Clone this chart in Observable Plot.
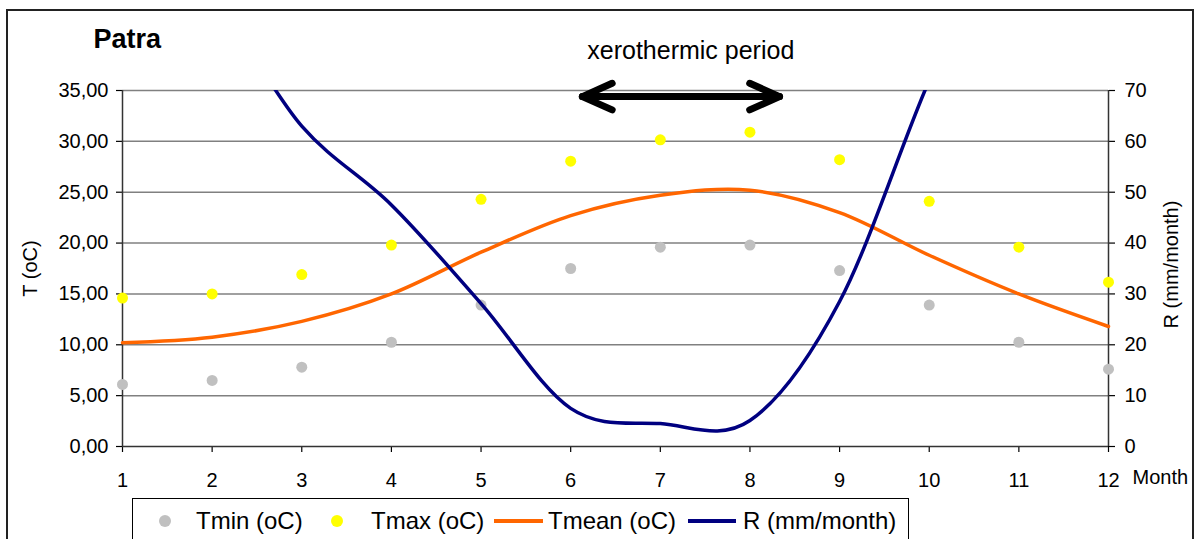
<!DOCTYPE html>
<html><head><meta charset="utf-8">
<script src="https://cdn.jsdelivr.net/npm/d3@7"></script>
<script src="https://cdn.jsdelivr.net/npm/@observablehq/plot@0.6"></script>
<style>
body{margin:0;background:#fff;font-family:"Liberation Sans",Arial,sans-serif;}
#wrap{position:relative;width:1195px;height:539px;overflow:hidden;background:#fff;}
#chart{position:absolute;left:0;top:0;}
#border{position:absolute;left:6px;top:9px;width:1184px;height:620px;border:2px solid #222;pointer-events:none;}
#legend{position:absolute;left:132px;top:498px;width:775px;height:70px;border:1px solid #000;background:#fff;font-size:24px;color:#000;}
#legend .item{position:absolute;top:22px;transform:translateY(-50%);white-space:nowrap;line-height:1;}
#legend .dot{position:absolute;top:22px;width:12px;height:12px;border-radius:50%;transform:translate(-50%,-50%);}
#legend .ln{position:absolute;top:22px;height:4px;transform:translateY(-50%);}
</style>
</head><body>
<div id="wrap"><div id="chart"></div><div id="legend"></div><div id="border"></div></div>
<script>
// ---- data ----
const months = [1, 2, 3, 4, 5, 6, 7, 8, 9, 10, 11, 12];
const tmin  = [6.1, 6.5, 7.8, 10.25, 13.9, 17.5, 19.6, 19.8, 17.3, 13.9, 10.25, 7.6];
const tmax  = [14.6, 15.0, 16.9, 19.8, 24.3, 28.05, 30.15, 30.9, 28.2, 24.1, 19.6, 16.15];
const tmean = [10.2, 10.75, 12.3, 15.0, 19.1, 22.7, 24.7, 25.2, 23.0, 18.8, 15.0, 11.8];
const rain  = [100, 88, 63, 47.5, 28.1, 7.5, 4.5, 5.1, 28.5, 72, 110, 130];
const tTicks = [0, 5, 10, 15, 20, 25, 30, 35];
const seriesNames  = ["Tmin (oC)", "Tmax (oC)", "Tmean (oC)", "R (mm/month)"];
const seriesColors = ["#c0c0c0", "#ffff00", "#ff6600", "#000080"];
const xeroPeriod = [{from: 6.13, to: 8.33, level: 34.4}];
const xeroLabel = ["xerothermic period"];
const xeroLabelMonth = 7.34;
const rPerT = 2; // right axis: 70 mm/month <-> 35 oC

const rows = months.map((m, i) => ({month: m, tmin: tmin[i], tmax: tmax[i], tmean: tmean[i], r: rain[i]}));
const fmt = d => d.toFixed(2).replace(".", ",");

const plot = Plot.plot({
  width: 1195, height: 498,
  marginLeft: 122, marginRight: 87, marginTop: 90, marginBottom: 52,
  x: {domain: [1, 12]},
  y: {domain: [0, 35]},
  style: {fontFamily: '"Liberation Sans", Arial, sans-serif', fontSize: "20px", background: "transparent", color: "#000", overflow: "visible"},
  marks: [
    Plot.ruleY(tTicks.filter(t => t > 0), {stroke: "#808080", strokeWidth: 1.5, strokeOpacity: 1}),
    Plot.axisY({ticks: tTicks, tickFormat: fmt, tickSize: 6, tickPadding: 8, label: null, strokeWidth: 1.2}),
    Plot.axisY({anchor: "right", ticks: tTicks, tickFormat: d => String(d * rPerT), tickSize: 6, tickPadding: 10, label: null, strokeWidth: 1.2}),
    Plot.axisX({ticks: months, tickSize: 6, tickPadding: 20, label: null, tickFormat: d => String(d), strokeWidth: 1.2}),
    Plot.ruleX([1, 12], {stroke: "#333", strokeWidth: 1.5}),
    Plot.ruleY([0], {stroke: "#333", strokeWidth: 1.5}),
    Plot.dot(rows, {x: "month", y: "tmin", r: 5.5, fill: seriesColors[0]}),
    Plot.dot(rows, {x: "month", y: "tmax", r: 5.5, fill: seriesColors[1]}),
    Plot.line(rows, {x: "month", y: "tmean", stroke: seriesColors[2], strokeWidth: 3.5, curve: "cardinal", tension: 0}),
    Plot.line(rows, {x: "month", y: d => d.r / rPerT, stroke: seriesColors[3], strokeWidth: 3.5, curve: "cardinal", tension: 0, clip: true}),
    Plot.arrow(xeroPeriod, {x1: "from", x2: "to", y1: "level", y2: "level", stroke: "#000", strokeWidth: 7, headLength: 7, headAngle: 48, strokeLinecap: "round", strokeLinejoin: "round"}),
    Plot.arrow(xeroPeriod, {x1: "to", x2: "from", y1: "level", y2: "level", stroke: "#000", strokeWidth: 7, headLength: 7, headAngle: 48, strokeLinecap: "round", strokeLinejoin: "round"}),
    Plot.text(xeroLabel, {x: () => xeroLabelMonth, y: () => 35, text: d => d, dy: -40, fontSize: 25}),
    Plot.text(["Patra"], {text: d => d, frameAnchor: "top-left", dx: -29, dy: -43, textAnchor: "start", lineAnchor: "bottom", fontSize: 27, fontWeight: "bold"}),
    Plot.text(["T (oC)"], {text: d => d, frameAnchor: "left", dx: -92, rotate: -90, textAnchor: "middle", fontSize: 20}),
    Plot.text(["R (mm/month)"], {text: d => d, frameAnchor: "right", dx: 63, dy: -4, rotate: -90, textAnchor: "middle", fontSize: 20}),
    Plot.text(["Month"], {text: d => d, frameAnchor: "bottom-right", dx: 24, dy: 37, textAnchor: "start", fontSize: 20})
  ]
});
document.getElementById("chart").appendChild(plot);

// legend
const legend = document.getElementById("legend");
const dotX = [32, 204], lineX = [361, 555], textX = [63, 238, 415, 610];
const add = (cls, style, txt) => { const e = document.createElement("div"); e.className = cls; Object.assign(e.style, style); if (txt) e.textContent = txt; legend.appendChild(e); };
add("dot", {left: dotX[0] + "px", background: seriesColors[0]});
add("dot", {left: dotX[1] + "px", background: seriesColors[1]});
add("ln", {left: lineX[0] + "px", width: "49px", background: seriesColors[2]});
add("ln", {left: lineX[1] + "px", width: "48px", background: seriesColors[3]});
seriesNames.forEach((n, i) => add("item", {left: textX[i] + "px"}, n));
</script>
</body></html>
